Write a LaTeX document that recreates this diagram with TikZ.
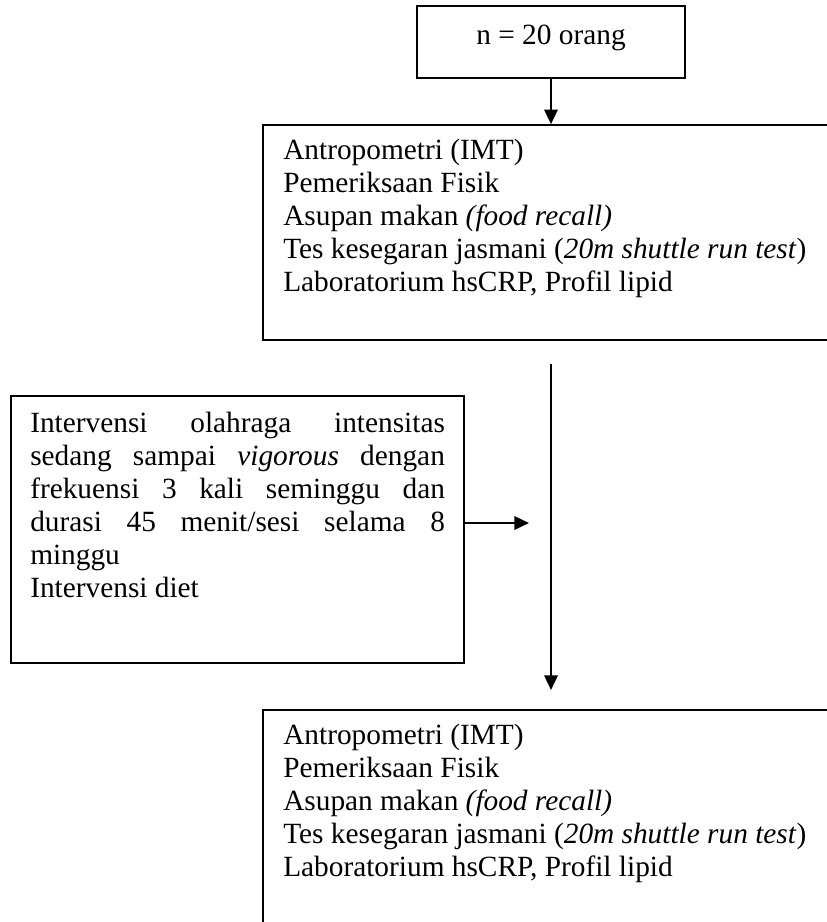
\documentclass[tikz,border=0pt]{standalone}
\usepackage{fontspec}
\setmainfont{Liberation Serif}
\usetikzlibrary{arrows.meta,fit}
\tikzset{
  box/.style={draw, line width=1.2pt, inner sep=0pt, rectangle},
  txt/.style={inner sep=0pt, font=\fontsize{22pt}{24.75pt}\selectfont, anchor=base west},
  arr/.style={line width=1.9pt, -{Triangle[length=11pt,width=10pt]}}
}
\begin{document}
\begin{tikzpicture}[x=0.75pt,y=-0.75pt]
\useasboundingbox (0,0) rectangle (827,922);
\clip (0,0) rectangle (827,922);
% boxes
\node[box, fit={(417,6) (685,78)}] (top) {};
\node[box, fit={(263,125) (900,340)}] (pre) {};
\node[box, fit={(11,396) (464,663)}] (interv) {};
\node[box, fit={(263,710) (900,1000)}] (post) {};
% texts
\node[txt, anchor=base] (toptxt) at (551,44) {n = 20 orang};
\node[txt] (pretxt) at (283,159) {\parbox[t]{450pt}{%
Antropometri (IMT)\\
Pemeriksaan Fisik\\
Asupan makan \textit{(food recall)}\\
Tes kesegaran jasmani (\textit{20m shuttle run test})\\
Laboratorium hsCRP, Profil lipid}};
\node[txt] (intervtxt) at (30,432) {\parbox[t]{311pt}{%
Intervensi\hfill olahraga\hfill intensitas\\
sedang\hfill sampai\hfill \textit{vigorous}\hfill dengan\\
frekuensi\hfill 3\hfill kali\hfill seminggu\hfill dan\\
durasi\hfill 45\hfill menit/sesi\hfill selama\hfill 8\\
minggu\\
Intervensi diet}};
\node[txt] (posttxt) at (283,744) {\parbox[t]{450pt}{%
Antropometri (IMT)\\
Pemeriksaan Fisik\\
Asupan makan \textit{(food recall)}\\
Tes kesegaran jasmani (\textit{20m shuttle run test})\\
Laboratorium hsCRP, Profil lipid}};
% connectors
\coordinate (vtop) at (551,364);
\coordinate (vend) at (551,690);
\coordinate (hend) at (529,523);
\draw[arr] (top.south) -- (top.south |- pre.north);
\draw[arr] (vtop) -- (vend);
\draw[arr] (interv.east |- hend) -- (hend);
\end{tikzpicture}
\end{document}
